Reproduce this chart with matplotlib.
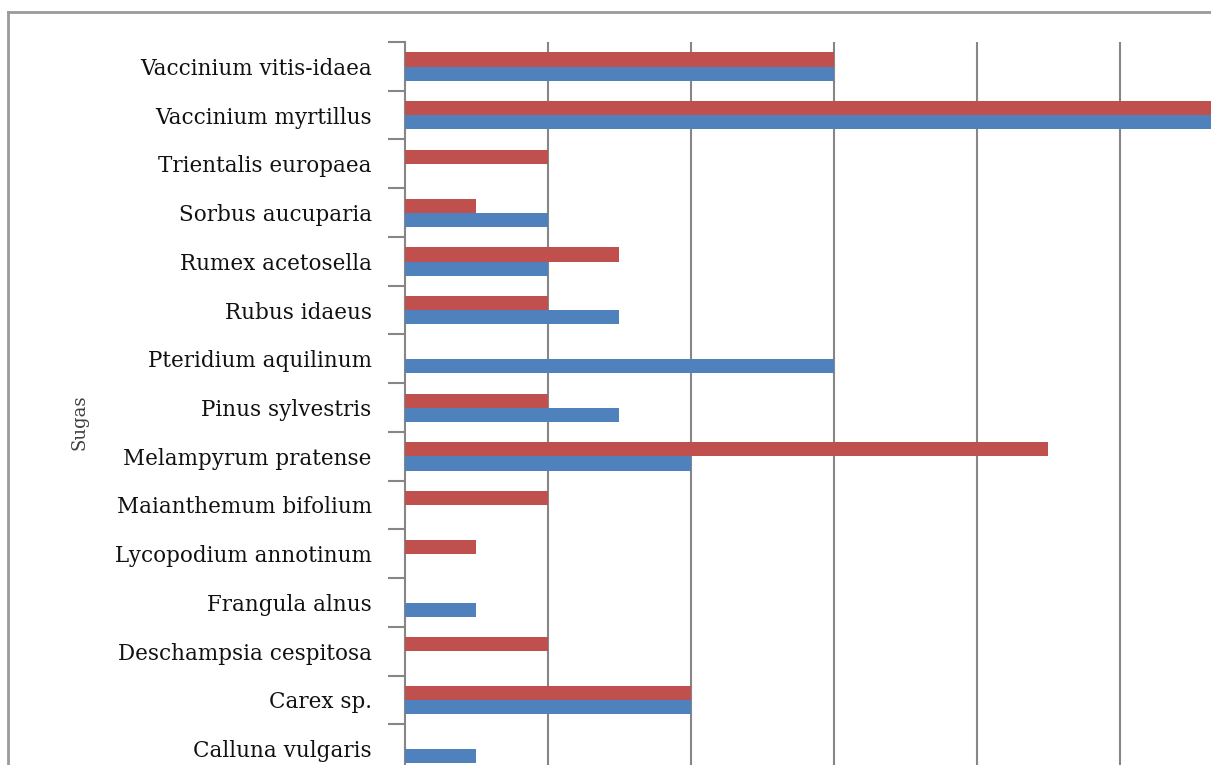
import numpy as np
import matplotlib
matplotlib.use("Agg")
import matplotlib.pyplot as plt
from matplotlib.lines import Line2D

plt.rcParams["font.family"] = ["DejaVu Serif", "Liberation Serif"]

species = ["Vaccinium vitis-idaea", "Vaccinium myrtillus", "Trientalis europaea",
           "Sorbus aucuparia", "Rumex acetosella", "Rubus idaeus",
           "Pteridium aquilinum", "Pinus sylvestris", "Melampyrum pratense",
           "Maianthemum bifolium", "Lycopodium annotinum", "Frangula alnus",
           "Deschampsia cespitosa", "Carex sp.", "Calluna vulgaris"]
red_vals  = [6, 12, 2, 1, 3, 2, 0, 2, 9, 2, 1, 0, 2, 4, 0]
blue_vals = [6, 12, 0, 2, 2, 3, 6, 3, 4, 0, 0, 1, 0, 4, 1]
grid_ticks = [2, 4, 6, 8, 10]

W, H = 1211, 765
fig = plt.figure(figsize=(W / 100, H / 100), dpi=100)

# axes placed in pixel terms (the picture is a crop, so it runs past the bottom and right)
ax = fig.add_axes([405 / W, 1 - 773 / H, 1 - 405 / W, (773 - 42) / H])

y = np.arange(len(species))
bh = 0.29
ax.barh(y - 0.14, red_vals, height=bh, color="#C0504D", zorder=3)
ax.barh(y + 0.15, blue_vals, height=bh, color="#4F81BD", zorder=3)

ax.set_ylim(len(species) - 0.5, -0.5)
ax.set_xlim(0, (W - 405) / 143.0 * 2)

ax.set_yticks(y)
ax.set_yticklabels(species, fontsize=15.5, color="#111111")
ax.tick_params(axis="y", which="major", length=0, pad=24)
ax.set_yticks(np.arange(len(species) + 1) - 0.5, minor=True)
ax.tick_params(axis="y", which="minor", length=12, width=1.5, color="#868686")

ax.set_xticks(grid_ticks)
ax.set_xticklabels([])
ax.tick_params(axis="x", length=0)
ax.grid(axis="x", color="#868686", linewidth=1.5, zorder=0)

for s in ["top", "right", "bottom"]:
    ax.spines[s].set_visible(False)
ax.spines["left"].set_color("#868686")
ax.spines["left"].set_linewidth(1.5)

fig.text(80 / W, 1 - 422 / H, "Sugas", rotation=90, ha="center", va="center",
         fontsize=13, color="#404040")

# outer chart frame
fig.add_artist(Line2D([8 / W, 1], [1 - 12 / H, 1 - 12 / H], color="#9a9a9a", linewidth=2))
fig.add_artist(Line2D([8 / W, 8 / W], [0, 1 - 12 / H], color="#9a9a9a", linewidth=2))

fig.savefig("out.png", dpi=100)
